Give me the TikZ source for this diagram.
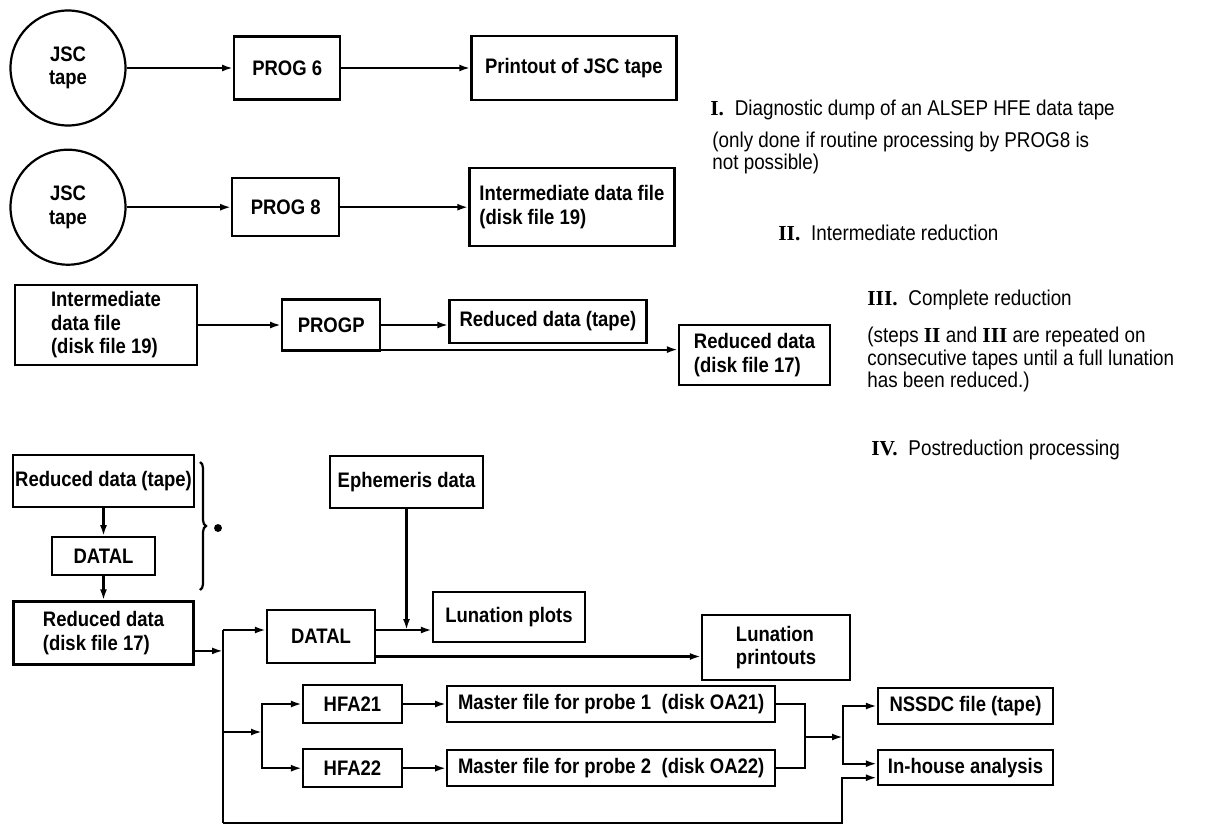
\documentclass[tikz,border=0pt]{standalone}
\usepackage{fontspec}
\setmainfont{Liberation Sans}[FakeStretch=0.88]
\newfontfamily\numfont{Liberation Serif}
\usetikzlibrary{arrows.meta, positioning, decorations.pathreplacing}
\newcommand{\boxtext}{\bfseries\fontsize{10.5}{11.75}\selectfont}
\newcommand{\notetext}{\fontsize{10.7}{9.5}\selectfont}
\tikzset{
  process/.style 2 args={rectangle, draw, line width=1.1pt, minimum width=#1, minimum height=#2, inner sep=1pt, align=left, font=\boxtext},
  tape/.style={circle, draw, line width=1.1pt, minimum size=57.5pt, inner sep=0pt, align=center, font=\boxtext},
  note/.style={anchor=west, inner sep=0pt, align=left, font=\notetext},
  arrow/.style={-{Latex[length=5.5pt, width=3.5pt]}, line width=1.1pt},
  link/.style={line width=1.1pt},
}

\begin{document}
\begin{tikzpicture}[x=0.5pt, y=-0.5pt]
  \useasboundingbox (0,0) rectangle (1211,831);

  % ---- I: diagnostic dump ----
  \node (jsc1) [tape] at (68,68) {JSC\\tape};
  \node (prog6) [process={53pt}{31.5pt}, right=53.25pt of jsc1] {PROG 6};
  \node (printout) [process={102.5pt}{32pt}, right=64.5pt of prog6] {Printout of JSC tape};

  % ---- II: intermediate reduction ----
  \node (jsc2) [tape, below=11pt of jsc1] {JSC\\tape};
  \node (prog8) [process={53.5pt}{29pt}, right=52.25pt of jsc2] {PROG 8};
  \node (interm) [process={102.5pt}{39pt}, right=64pt of prog8] {Intermediate data file\\(disk file 19)};

  % ---- III: complete reduction ----
  \node (intdisk) [process={91pt}{40pt}] at (106,325) {Intermediate\\data file\\(disk file 19)};
  \node (progp) [process={49pt}{25.5pt}, right=41.5pt of intdisk] {PROGP};
  \node (redtape) [process={98.5pt}{21.5pt}, right=33.5pt of progp, yshift=1.75pt] {Reduced data (tape)};
  \node (reddisk) [process={75.5pt}{30pt}] at (754.5,355) {Reduced data\\(disk file 17)};

  % ---- IV: postreduction ----
  \node (redtape2) [process={88.5pt}{26pt}] at (103.5,481) {Reduced data (tape)};
  \node (datal1) [process={51.5pt}{19pt}, below=14pt of redtape2] {DATAL};
  \node (reddisk2) [process={90pt}{31.5pt}, below=12pt of datal1] {Reduced data\\(disk file 17)};
  \node (ephem) [process={76.5pt}{26pt}] at (406.5,482) {Ephemeris data};
  \node (datal2) [process={54pt}{26.5pt}] at (321,636.5) {DATAL};
  \node (lunplots) [process={76pt}{25pt}] at (509,617) {Lunation plots};
  \node (lunprint) [process={74pt}{32.5pt}] at (776,647.5) {Lunation\\printouts};
  \node (hfa21) [process={49.5pt}{19pt}] at (352.5,704) {HFA21};
  \node (hfa22) [process={49.5pt}{19pt}, below=12pt of hfa21] {HFA22};
  \node (master1) [process={164pt}{18pt}, right=21.5pt of hfa21] {Master file for probe 1\enspace(disk OA21)};
  \node (master2) [process={164pt}{18pt}, right=21.5pt of hfa22] {Master file for probe 2\enspace(disk OA22)};
  \node (nssdc) [process={87.5pt}{18pt}] at (965.5,706) {NSSDC file (tape)};
  \node (inhouse) [process={87.5pt}{17.5pt}, below=12pt of nssdc] {In-house analysis};

  % brace and mark
  \draw [link, decorate, decoration={brace, amplitude=3pt}] (200,462) -- (200,590);
  \node (mark) [circle, fill, inner sep=1.4pt] at (218,528) {};

  % ---- Step notes ----
  \node (step1) [note] at (710,110) {{\numfont\bfseries I.}\enspace Diagnostic dump of an ALSEP HFE data tape};
  \node (step1b) [note] at (712,152.5) {(only done if routine processing by PROG8 is\\not possible)};
  \node (step2) [note] at (778,233) {{\numfont\bfseries II.}\enspace Intermediate reduction};
  \node (step3) [note] at (867,300) {{\numfont\bfseries III.}\enspace Complete reduction};
  \node (step3b) [note, font=\fontsize{10.7}{11.25}\selectfont] at (867,359.5) {(steps {\numfont\bfseries II} and {\numfont\bfseries III} are repeated on\\consecutive tapes until a full lunation\\has been reduced.)};
  \node (step4) [note] at (871,450) {{\numfont\bfseries IV.}\enspace Postreduction processing};

  % ---- Helper points ----
  \coordinate (tt) at (223,630);
  \coordinate (tb) at (223,823);
  \coordinate (br0) at (223,732);
  \coordinate (br) at (262,732);
  \coordinate (mg) at (805,737);
  \coordinate (sp) at (843,737);
  \coordinate (bc) at (842,823);
  \coordinate (dl) at (datal2.east |- tt);

  % ---- Arrows ----
  \draw [arrow] (jsc1) -- (prog6);
  \draw [arrow] (prog6) -- (printout);
  \draw [arrow] (jsc2) -- (prog8);
  \draw [arrow] (prog8) -- (interm);
  \draw [arrow] (intdisk) -- (progp);
  \draw [arrow] (progp.east) -- (progp.east -| redtape.west);
  \draw [arrow] ([yshift=1pt]progp.south east) -- ([yshift=1pt]progp.south east -| reddisk.west);
  \draw [arrow] (redtape2) -- (datal1);
  \draw [arrow] (datal1) -- (reddisk2);
  \draw [arrow] ([yshift=-9pt]reddisk2.east) -- ([yshift=-9pt]reddisk2.east -| tt);
  \draw [link] (tt) -- (tb);
  \draw [arrow] (tt) -- (tt -| datal2.west);
  \draw [arrow] (dl) -- (dl -| lunplots.west);
  \draw [arrow] (ephem.south) -- (ephem.south |- dl);
  \draw [arrow] ([yshift=-10pt]datal2.east) -- ([yshift=-10pt]datal2.east -| lunprint.west);
  \draw [arrow] (br0) -- (br);
  \draw [arrow] (br) |- (hfa21.west);
  \draw [arrow] (br) |- (hfa22.west);
  \draw [arrow] (hfa21) -- (master1);
  \draw [arrow] (hfa22) -- (master2);
  \draw [link] (master1.east) -| (mg) |- (master2.east);
  \draw [arrow] (mg) -- (sp);
  \draw [arrow] (sp) |- (nssdc.west);
  \draw [arrow] (sp) |- ([yshift=2pt]inhouse.west);
  \draw [arrow] (tb) -- (bc) |- ([yshift=-5pt]inhouse.west);

\end{tikzpicture}
\end{document}
